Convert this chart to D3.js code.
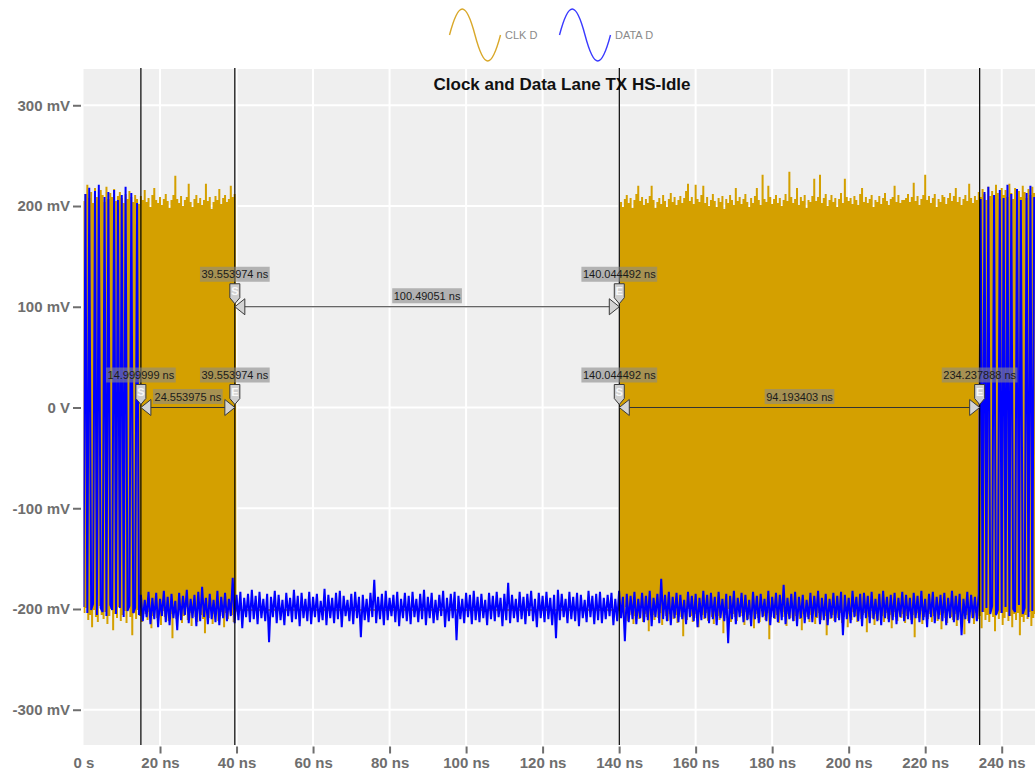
<!DOCTYPE html>
<html>
<head>
<meta charset="utf-8">
<script src="https://cdn.jsdelivr.net/npm/d3@7"></script>
<style>
  html, body { margin: 0; padding: 0; background: #ffffff; }
  svg { display: block; font-family: "Liberation Sans", Arial, Helvetica, sans-serif; }
</style>
</head>
<body>
<svg id="chart" width="1035" height="774"></svg>
<script>
// ---- Waveform samples (mV), one every STEP_NS nanoseconds ----
const STEP_NS = 0.5;

// CLK D: first HS burst, peak highs / lows per half-period pair
const clkStartA = 0;
const clkHiA = [
  205,212,221,208,214,203,218,209,206,216,
  211,204,219,207,213,209,217,205,210,214,
  208,203,212,207,215,209,204,211,207,202,
  210,206,216,204,208,199,211,218,206,203,
  209,201,207,212,205,198,206,211,230,207,
  203,210,200,206,209,222,204,199,207,211,
  203,208,201,206,222,205,209,197,204,210,
  206,217,202,208,211,204,207,220,209,212
];
const clkLoA = [
  -204,-199,-211,-206,-218,-201,-208,-213,-197,-206,
  -210,-203,-215,-207,-200,-221,-205,-209,-198,-212,
  -206,-202,-214,-199,-208,-226,-204,-210,-201,-207,
  -213,-198,-205,-211,-203,-219,-207,-200,-209,-204,
  -216,-202,-208,-199,-212,-205,-229,-203,-210,-206,
  -201,-214,-207,-198,-211,-204,-217,-202,-208,-213,
  -199,-206,-210,-224,-203,-209,-201,-215,-205,-200,
  -212,-207,-203,-218,-204,-210,-198,-206,-213,-202
];

// CLK D: idle level between bursts
const clkIdleMv = -201;
const clkIdleFrom = 40;
const clkIdleTo = 140.25;

// CLK D: second HS burst
const clkStartB = 140.5;
const clkHiB = [
  204,199,207,211,203,208,198,206,212,220,
  205,209,201,207,203,210,220,206,198,204,
  208,202,211,205,199,207,213,204,209,201,
  206,210,203,208,215,222,205,209,202,221,
  207,204,211,220,203,209,200,206,212,205,
  199,208,204,210,197,207,203,211,206,201,
  218,205,209,202,207,212,204,199,208,203,
  210,218,206,201,231,207,204,220,209,202,
  207,211,203,208,200,206,212,205,234,209,
  203,207,218,201,209,205,211,198,206,204,
  210,227,205,209,231,203,208,212,200,206,
  211,204,208,199,207,213,203,227,209,205,
  208,202,210,206,201,212,218,204,209,203,
  207,211,199,206,204,210,202,208,213,205,
  201,207,209,220,204,211,203,206,206,208,
  212,204,209,223,205,210,201,207,211,231,
  206,210,203,208,212,199,207,204,211,209,
  202,208,213,205,210,218,204,209,201,207,
  211,205,222,208,203,210,206,214,209,217,
  212,206,219,210,215,208,221,213,207,218,
  211,216,209,222,213,207,218,212,215,209,
  220,214,208,217,211,219,213
];
const clkLoB = [
  -203,-209,-198,-212,-206,-201,-215,-207,-204,-210,
  -199,-213,-205,-208,-222,-202,-206,-211,-197,-209,
  -204,-216,-201,-207,-212,-205,-199,-210,-206,-214,
  -202,-208,-227,-203,-211,-200,-207,-213,-205,-209,
  -218,-201,-206,-210,-204,-212,-199,-208,-215,-203,
  -207,-211,-202,-224,-206,-209,-200,-213,-205,-208,
  -212,-198,-207,-204,-216,-203,-210,-206,-201,-219,
  -205,-209,-213,-200,-207,-211,-204,-230,-208,-202,
  -210,-206,-214,-201,-208,-203,-217,-205,-209,-199,
  -212,-207,-203,-210,-221,-205,-200,-208,-213,-206,
  -202,-215,-209,-204,-211,-198,-207,-226,-203,-210,
  -206,-212,-200,-209,-204,-214,-208,-201,-218,-205,
  -211,-203,-207,-213,-199,-210,-206,-204,-223,-208,
  -202,-209,-216,-205,-211,-200,-207,-213,-204,-210,
  -206,-219,-203,-208,-212,-201,-209,-205,-214,-207,
  -200,-211,-206,-228,-204,-209,-202,-215,-208,-203,
  -210,-205,-213,-207,-199,-212,-206,-220,-204,-209,
  -214,-202,-208,-211,-205,-217,-203,-210,-207,-225,
  -206,-212,-201,-209,-215,-204,-210,-207,-219,-203,
  -211,-206,-213,-200,-208,-222,-205,-210,-204,-216,
  -209,-203,-212,-207,-218,-205,-211,-204,-226,-208,
  -213,-206,-210,-203,-217,-209,-205
];

// DATA D: 0 ns .. 248.5 ns
const dataStart = 0;
const dataMv = [
  // HS data, 0 - 14.5 ns
  -198,212,-204,218,-201,-195,215,-206,221,-199,
  -203,209,-207,214,-196,-201,216,-205,206,-199,
  211,-208,219,-202,-197,213,-204,-199,203,-206,
  // HS-Idle level, 15 - 234 ns
  -186,-212,-191,-208,-183,-215,-189,-210,-184,-218,-190,-207,-182,-213,-188,-216,-185,-209,-192,-221,
  -184,-211,-187,-206,-181,-214,-190,-209,-186,-217,-183,-212,-178,-208,-189,-215,-185,-210,-191,-213,
  -182,-216,-188,-209,-184,-212,-190,-207,-169,-214,-186,-211,-183,-219,-189,-208,-185,-213,-181,-210,
  -187,-215,-183,-209,-190,-212,-185,-233,-188,-208,-182,-214,-186,-211,-191,-216,-184,-207,-189,-213,
  -181,-210,-187,-217,-184,-209,-190,-212,-183,-215,-188,-208,-185,-213,-192,-211,-180,-216,-186,-209,
  -189,-214,-184,-210,-182,-218,-187,-207,-191,-212,-185,-215,-183,-209,-188,-228,-186,-211,-190,-213,
  -184,-208,-171,-214,-188,-210,-185,-216,-182,-211,-189,-207,-186,-213,-183,-217,-190,-209,-184,-212,
  -187,-215,-183,-208,-190,-213,-185,-210,-181,-216,-188,-209,-184,-214,-191,-211,-186,-207,-182,-218,
  -189,-212,-185,-209,-183,-231,-187,-210,-190,-214,-184,-208,-186,-215,-182,-211,-188,-213,-185,-209,
  -191,-216,-184,-210,-187,-212,-183,-208,-189,-217,-185,-211,-174,-214,-186,-209,-190,-213,-183,-210,
  -188,-215,-185,-207,-182,-212,-190,-218,-184,-209,-187,-213,-183,-210,-189,-216,-186,-229,-181,-211,
  -185,-208,-190,-214,-183,-210,-188,-212,-184,-217,-186,-209,-191,-213,-182,-208,-187,-215,-185,-211,
  -183,-214,-189,-210,-186,-207,-184,-216,-190,-212,-182,-209,-188,-232,-185,-213,-187,-210,-183,-215,
  -190,-209,-184,-213,-187,-211,-182,-217,-189,-208,-185,-214,-170,-210,-186,-212,-183,-216,-188,-209,
  -184,-213,-186,-210,-191,-215,-183,-208,-187,-212,-185,-218,-189,-211,-182,-209,-186,-214,-184,-210,
  -188,-216,-183,-209,-190,-212,-185,-234,-187,-210,-182,-215,-189,-208,-184,-213,-186,-211,-191,-217,
  -183,-210,-187,-214,-185,-208,-190,-212,-182,-216,-188,-209,-184,-213,-186,-211,-176,-215,-189,-210,
  -185,-212,-183,-217,-188,-209,-186,-214,-191,-210,-184,-213,-187,-208,-182,-215,-189,-211,-185,-216,
  -190,-209,-184,-213,-187,-211,-183,-226,-186,-210,-189,-214,-182,-208,-188,-212,-185,-217,-184,-209,
  -187,-214,-183,-210,-190,-212,-185,-216,-182,-209,-188,-213,-186,-211,-184,-215,-189,-208,-183,-212,
  -186,-210,-189,-215,-184,-209,-187,-213,-182,-211,-190,-218,-185,-208,-183,-214,-188,-210,-186,-212,
  -184,-216,-189,-209,-182,-213,-187,-211,-185,-226,-190,-210,-183,-214,-186,-209,-188,-212,-185,
  // HS data, 234.5 - 248.5 ns
  207,-203,214,-199,219,-205,-197,211,-206,-201,
  216,-204,208,-198,221,-207,212,-200,-203,217,
  -196,206,-205,-199,213,-208,220,-202,209
];

// ---- Cursors and measurements (ns) ----
const cursorNs = [14.999999, 39.553974, 140.044492, 234.237888];
const spanStart = [39.553974, 14.999999, 140.044492];
const spanEnd = [140.044492, 39.553974, 234.237888];
const spanLevelMv = [100, 0, 0];
const spanLabels = ["100.49051 ns", "24.553975 ns", "94.193403 ns"];

// ---- Axis ticks, legend ----
const xTickNs = [0, 20, 40, 60, 80, 100, 120, 140, 160, 180, 200, 220, 240];
const yTickMv = [-300, -200, -100, 0, 100, 200, 300];
const seriesNames = ["CLK D", "DATA D"];
const seriesColors = ["#d4a000", "#0000ff"];
const legendColors = ["#d9a82a", "#3a3aff"];
const titleText = "Clock and Data Lane TX HS-Idle";

// ---- Layout ----
const svg = d3.select("#chart");
const plot = { left: 83.5, right: 1035, top: 69, bottom: 745 };

const x = d3.scaleLinear().domain([0, 248.7]).range([plot.left, plot.right]);
const y = d3.scaleLinear().domain([-335, 336]).range([plot.bottom, plot.top]);

svg.append("defs").append("clipPath").attr("id", "plotClip")
  .append("rect")
  .attr("x", plot.left).attr("y", plot.top)
  .attr("width", plot.right - plot.left).attr("height", plot.bottom - plot.top);

// plot background
svg.append("rect")
  .attr("x", plot.left).attr("y", plot.top)
  .attr("width", plot.right - plot.left).attr("height", plot.bottom - plot.top)
  .attr("fill", "#efefef");

// grid
const grid = svg.append("g").attr("stroke", "#ffffff").attr("stroke-width", 2);
grid.selectAll("line.gx").data(xTickNs.filter(d => d > 0)).join("line")
  .attr("x1", d => x(d)).attr("x2", d => x(d))
  .attr("y1", plot.top).attr("y2", plot.bottom);
grid.selectAll("line.gy").data(yTickMv).join("line")
  .attr("x1", plot.left).attr("x2", plot.right)
  .attr("y1", d => y(d)).attr("y2", d => y(d));

// axes
const fmtY = v => v === 0 ? "0 V" : `${v} mV`;
const fmtX = v => v === 0 ? "0 s" : `${v} ns`;

const yAxis = svg.append("g")
  .attr("transform", `translate(${plot.left - 2.5},0)`)
  .call(d3.axisLeft(y).tickValues(yTickMv).tickFormat(fmtY).tickSize(8).tickPadding(3));
const xAxis = svg.append("g")
  .attr("transform", `translate(0,${plot.bottom + 1.5})`)
  .call(d3.axisBottom(x).tickValues(xTickNs).tickFormat(fmtX).tickSize(7).tickPadding(4));

[yAxis, xAxis].forEach(ax => {
  ax.select(".domain").remove();
  ax.selectAll(".tick line").attr("stroke", "#6e6e6e").attr("stroke-width", 2);
  ax.selectAll(".tick text")
    .attr("fill", "#6e6e6e")
    .style("font-size", "15px")
    .style("font-weight", "bold")
    .style("font-family", '"Liberation Sans", Arial, sans-serif');
});
xAxis.selectAll(".tick").filter(d => d === 0).select("line").remove();

// ---- Waveforms ----
const clkPts = [];
clkHiA.forEach((v, i) => {
  const t = clkStartA + i * STEP_NS;
  clkPts.push([t, v], [t + STEP_NS / 2, clkLoA[i]]);
});
clkPts.push([clkIdleFrom, clkIdleMv], [clkIdleTo, clkIdleMv]);
clkHiB.forEach((v, i) => {
  const t = clkStartB + i * STEP_NS;
  clkPts.push([t, v], [t + STEP_NS / 2, clkLoB[i]]);
});
const dataPts = dataMv.map((v, i) => [dataStart + i * STEP_NS, v]);

const line = d3.line().x(d => x(d[0])).y(d => y(d[1]));
const waves = svg.append("g").attr("clip-path", "url(#plotClip)");
waves.append("path").datum(clkPts)
  .attr("d", line).attr("fill", "none")
  .attr("stroke", seriesColors[0]).attr("stroke-width", 2)
  .attr("stroke-linejoin", "bevel");
waves.append("path").datum(dataPts)
  .attr("d", line).attr("fill", "none")
  .attr("stroke", seriesColors[1]).attr("stroke-width", 2)
  .attr("stroke-linejoin", "bevel");

// ---- Title ----
svg.append("text")
  .attr("x", 562).attr("y", 89.5)
  .attr("text-anchor", "middle")
  .attr("fill", "#111")
  .style("font-size", "17px").style("font-weight", "bold")
  .text(titleText);

// ---- Cursor lines ----
svg.append("g").selectAll("line").data(cursorNs).join("line")
  .attr("x1", d => x(d)).attr("x2", d => x(d))
  .attr("y1", plot.top - 1).attr("y2", plot.bottom)
  .attr("stroke", "#000").attr("stroke-width", 1.2);

// ---- Measurements ----
const meas = svg.append("g");
const fmtNs = v => `${v.toFixed(6)} ns`;

function tagLabel(cx, top, text) {
  const g = meas.append("g");
  const t = g.append("text")
    .attr("x", cx).attr("y", top + 11.5)
    .attr("text-anchor", "middle")
    .attr("fill", "#1a1a1a")
    .style("font-size", "11px")
    .text(text);
  const w = t.node().getComputedTextLength() + 3;
  g.insert("rect", "text")
    .attr("x", cx - w / 2).attr("y", top)
    .attr("width", w).attr("height", 15)
    .attr("fill", "#888888").attr("fill-opacity", 0.6);
}

function flag(cx, yl, letter) {
  meas.append("path")
    .attr("d", `M${cx - 5},${yl - 23}H${cx + 5}V${yl - 9}L${cx},${yl - 3}L${cx - 5},${yl - 9}Z`)
    .attr("fill", "#cfcfcf").attr("stroke", "#3a3a3a").attr("stroke-width", 1);
  meas.append("text")
    .attr("x", cx).attr("y", yl - 11.5)
    .attr("text-anchor", "middle")
    .attr("fill", "#f8f8f8")
    .style("font-size", "11px").style("font-weight", "bold")
    .text(letter);
}

function arrowHead(tipX, yl, dir) {
  meas.append("path")
    .attr("d", `M${tipX},${yl}L${tipX + dir * 10},${yl - 8}L${tipX + dir * 10},${yl + 8}Z`)
    .attr("fill", "#d4d4d4").attr("stroke", "#3a3a3a").attr("stroke-width", 1);
}

spanStart.forEach((s, i) => {
  const e = spanEnd[i];
  const xs = x(s), xe = x(e), yl = y(spanLevelMv[i]);
  meas.append("line")
    .attr("x1", xs).attr("x2", xe).attr("y1", yl).attr("y2", yl)
    .attr("stroke", "#333").attr("stroke-width", 1.2);
  tagLabel(xs, yl - 40, fmtNs(s));
  tagLabel(xe, yl - 40, fmtNs(e));
  tagLabel((xs + xe) / 2, yl - 18.5, spanLabels[i]);
  flag(xs, yl, "S");
  flag(xe, yl, "E");
  arrowHead(xs, yl, 1);
  arrowHead(xe, yl, -1);
});

// ---- Legend ----
const legend = svg.append("g");
const legendX = [449.5, 559.5];
const L = 25.5, A = 26, cy = 35;
seriesNames.forEach((name, i) => {
  const x0 = legendX[i];
  const d = `M${x0},${cy}` +
    `C${x0 + L * 0.36},${cy - A * 1.333} ${x0 + L * 0.64},${cy - A * 1.333} ${x0 + L},${cy}` +
    `C${x0 + L * 1.36},${cy + A * 1.333} ${x0 + L * 1.64},${cy + A * 1.333} ${x0 + 2 * L},${cy}`;
  legend.append("path").attr("d", d)
    .attr("fill", "none").attr("stroke", legendColors[i]).attr("stroke-width", 1.4);
  legend.append("text")
    .attr("x", x0 + 2 * L + 4.5).attr("y", cy + 4)
    .attr("fill", "#8a8a8a")
    .style("font-size", "11px")
    .text(name);
});
</script>
</body>
</html>
